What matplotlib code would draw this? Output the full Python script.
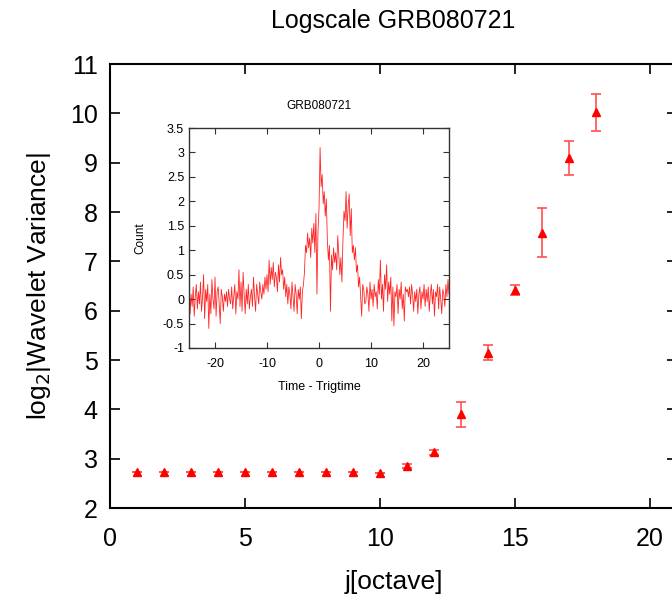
#!/usr/bin/env python3
"""
Logscale wavelet variance of GRB080721 with light-curve inset.
"""

import numpy as np
import matplotlib
matplotlib.use("Agg")
import matplotlib.pyplot as plt

plt.rcParams['font.family'] = ['Liberation Sans', 'DejaVu Sans']
plt.rcParams['axes.unicode_minus'] = False

# Main panel: octave j vs log2 wavelet variance
octave = [1, 2, 3, 4, 5, 6, 7, 8, 9, 10, 11, 12, 13, 14, 15, 16, 17, 18]
log_var = [2.74, 2.73, 2.74, 2.73, 2.74, 2.74, 2.74, 2.74, 2.73, 2.72,
           2.85, 3.13, 3.90, 5.15, 6.42, 7.58, 9.10, 10.02]
log_var_err = [0.0, 0.0, 0.0, 0.0, 0.0, 0.0, 0.0, 0.0, 0.0, 0.0,
               0.04, 0.05, 0.25, 0.15, 0.10, 0.50, 0.35, 0.38]

# Inset: light curve, counts sampled every 0.2 s from t = -25 s
t_start = -25.0
t_step = 0.2
counts = [
    0.45, -0.30, 0.10, -0.15, 0.25, -0.35, 0.05, 0.30, -0.20, 0.15,
    -0.10, 0.35, -0.25, 0.05, 0.50, -0.40, 0.20, -0.05, 0.30, -0.60,
    0.10, -0.30, 0.40, 0.00, -0.20, 0.45, -0.35, 0.15, 0.25, -0.10,
    -0.50, 0.20, 0.05, -0.25, 0.10, -0.05, 0.15, -0.15, 0.20, 0.00,
    -0.10, 0.25, -0.20, 0.05, 0.30, -0.30, 0.15, 0.00, 0.60, -0.15,
    0.35, -0.25, 0.55, 0.10, -0.30, 0.20, -0.10, 0.30, -0.20, 0.05,
    0.20, -0.15, 0.45, 0.05, -0.25, 0.30, 0.10, -0.10, 0.35, 0.15,
    0.00, 0.30, 0.10, 0.45, 0.20, 0.50, 0.15, 0.80, 0.30, 0.65,
    0.40, 0.75, 0.25, 0.55, 0.45, 0.15, 0.70, 0.35, 0.85, 0.50,
    0.60, 0.20, 0.45, 0.05, 0.30, -0.10, 0.25, 0.10, -0.20, 0.35,
    0.05, -0.25, 0.30, 0.10, -0.30, 0.20, 0.00, 0.25, -0.40, 0.15,
    0.30, 0.55, 1.10, 0.95, 1.35, 1.05, 1.25, 0.85, 1.45, 1.15,
    1.55, 0.95, 1.75, 0.10, 1.40, 1.85, 3.10, 2.30, 2.55, 1.95,
    2.20, 1.70, 2.05, 1.20, 0.80, 1.10, -0.25, 0.90, 0.60, 1.05,
    0.75, 0.95, 0.60, 1.30, 0.90, 0.50, 0.85, 0.35, 1.20, 1.80,
    1.60, 2.20, 1.45, 1.90, 2.15, 1.30, 1.85, 0.95, 1.10, 0.80,
    1.05, 0.55, 0.70, 0.25, 0.45, 0.05, -0.35, 0.30, 0.20, -0.10,
    -0.05, 0.25, 0.10, -0.25, 0.35, 0.00, 0.20, -0.15, 0.30, 0.05,
    0.15, -0.20, 0.40, 0.10, 0.80, 0.00, 0.30, -0.25, 0.50, 0.20,
    0.70, -0.05, 0.35, 0.10, 0.45, -0.45, 0.25, -0.55, 0.15, 0.05,
    0.30, -0.30, 0.20, 0.00, 0.35, -0.20, 0.10, -0.45, 0.25, 0.15,
    0.20, 0.05, 0.25, -0.10, 0.30, 0.10, -0.25, 0.15, -0.05, 0.20,
    -0.30, 0.10, 0.25, -0.20, 0.15, 0.00, 0.30, -0.15, 0.20, -0.05,
    0.25, -0.25, 0.10, 0.30, -0.10, 0.20, -0.35, 0.15, 0.05, 0.30,
    -0.20, 0.25, 0.00, -0.30, 0.20, 0.10, -0.15, 0.30, 0.05, 0.40,
    0.10,
]
time = t_start + t_step * np.arange(len(counts))

fig = plt.figure(figsize=(6.72, 6.03), dpi=100)

# main axes (right edge runs past the figure, as in the original)
ax = fig.add_axes([0.1637, 0.1575, 0.8438, 0.7363])
ax.errorbar(octave, log_var, yerr=log_var_err, fmt='none',
            ecolor='#ff5050', elinewidth=1.2, capsize=3.5, capthick=1.2)
ax.plot(octave, log_var, '^', color='red', markersize=5.5, linestyle='none')
ax.set_xlim(0, 21)
ax.set_ylim(2, 11)
ax.set_xticks([0, 5, 10, 15, 20])
ax.set_yticks(range(2, 12))
ax.tick_params(direction='in', length=7, width=1.2, labelsize=18,
               top=True, right=True)
ax.tick_params(axis='x', pad=14)
ax.tick_params(axis='y', pad=9)
for s in ax.spines.values():
    s.set_linewidth(1.5)
ax.set_xlabel('j[octave]', fontsize=19, labelpad=13)
ax.set_ylabel(r'log$_2$|Wavelet Variance|', fontsize=19, labelpad=12)
ax.set_title('Logscale GRB080721', fontsize=18, pad=26)

# inset light curve
ins = fig.add_axes([0.2813, 0.4229, 0.3869, 0.3648])
ins.plot(time, counts, color='red', linewidth=0.6, alpha=0.85)
ins.set_xlim(-25, 25)
ins.set_ylim(-1, 3.5)
ins.set_xticks([-20, -10, 0, 10, 20])
ins.set_yticks(np.arange(-1, 3.51, 0.5))
ins.set_yticklabels(['-1', '-0.5', '0', '0.5', '1', '1.5', '2', '2.5', '3', '3.5'])
ins.tick_params(direction='in', length=4, width=0.8, labelsize=9,
                top=True, right=True, colors='#333333', labelcolor='black')
ins.tick_params(axis='x', pad=7)
for s in ins.spines.values():
    s.set_linewidth(1.0)
    s.set_color('#333333')
ins.set_xlabel('Time - Trigtime', fontsize=9, labelpad=8)
ins.set_ylabel('Count', fontsize=8.5, labelpad=12)
ins.set_title('GRB080721', fontsize=8.5, pad=14)

fig.savefig('out.png', dpi=100)
